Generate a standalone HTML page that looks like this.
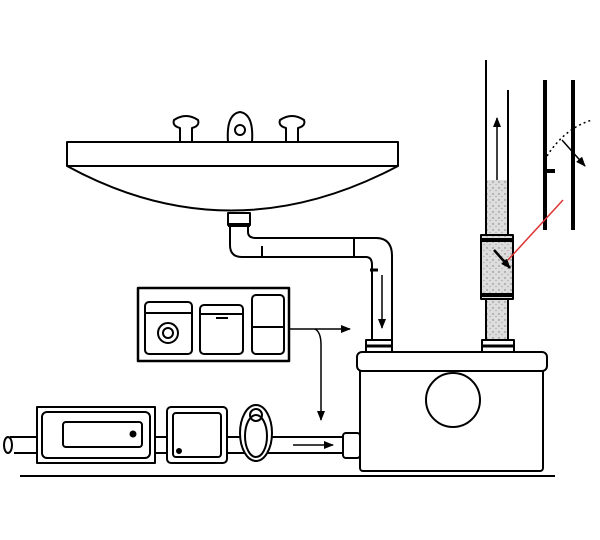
<!DOCTYPE html>
<html><head><style>body{margin:0;background:#fff}svg{display:block}</style></head><body>
<svg width="600" height="540" viewBox="0 0 600 540" xmlns="http://www.w3.org/2000/svg">
<defs>
<marker id="a" markerWidth="10" markerHeight="8" refX="9" refY="4" orient="auto" markerUnits="userSpaceOnUse"><path d="M0,0L10,4L0,8z" fill="#000"/></marker>
<pattern id="sp" width="6" height="6" patternUnits="userSpaceOnUse"><rect width="6" height="6" fill="#ddd"/><circle cx="1" cy="2" r=".7" fill="#777"/><circle cx="4" cy="4.5" r=".6" fill="#999"/></pattern>
</defs>
<g fill="none" stroke="#000" stroke-width="2" stroke-linejoin="round">
<path d="M180,142 V128 Q172,126 174,120 Q186,112 198,120 Q200,126 192,128 V142" fill="#fff"/>
<path d="M228,142 Q226,114 240,112 Q254,114 252,142" fill="#fff"/>
<circle cx="240" cy="130" r="5"/>
<path d="M286,142 V128 Q278,126 280,120 Q292,112 304,120 Q306,126 298,128 V142" fill="#fff"/>
<rect x="67" y="142" width="331" height="24" fill="#fff"/>
<path d="M67,166 Q230,255 398,166"/>
<rect x="228" y="213" width="22" height="12" fill="#fff"/>
<line x1="228" y1="225" x2="250" y2="225" stroke-width="4"/>
<path d="M230,226 V245 Q230,257 242,257 H366 Q372,257 372,265 V345"/>
<path d="M248,226 V232 Q248,238 256,238 H376 Q392,238 392,256 V345"/>
<line x1="262" y1="246" x2="262" y2="257"/>
<line x1="354" y1="238" x2="354" y2="257"/>
<line x1="370" y1="270" x2="378" y2="270" stroke-width="3"/>
<line x1="382" y1="275" x2="382" y2="328" stroke-width="1.5" marker-end="url(#a)"/>
<rect x="366" y="340" width="26" height="12" fill="#fff"/>
<line x1="366" y1="346" x2="392" y2="346" stroke-width="3"/>
<rect x="485" y="180" width="24" height="165" fill="url(#sp)" stroke="none"/>
<line x1="486" y1="60" x2="486" y2="345"/>
<line x1="508" y1="90" x2="508" y2="345"/>
<rect x="481" y="235" width="32" height="64" fill="url(#sp)"/>
<line x1="481" y1="240" x2="513" y2="240" stroke-width="4"/>
<line x1="481" y1="295" x2="513" y2="295" stroke-width="4"/>
<line x1="497" y1="180" x2="497" y2="118" stroke-width="1.5" marker-end="url(#a)"/>
<line x1="494" y1="250" x2="510" y2="268" stroke-width="2.5" marker-end="url(#a)"/>
<rect x="482" y="340" width="32" height="12" fill="#fff"/>
<line x1="482" y1="346" x2="514" y2="346" stroke-width="3"/>
<line x1="545" y1="80" x2="545" y2="230" stroke-width="4"/>
<line x1="573" y1="80" x2="573" y2="230" stroke-width="4"/>
<line x1="545" y1="171" x2="555" y2="171" stroke-width="4"/>
<path d="M547,156 Q565,128 592,120" stroke-dasharray="2,3" stroke-width="1.5"/>
<line x1="562" y1="140" x2="585" y2="166" stroke-width="1.5" marker-end="url(#a)"/>
<line x1="563" y1="200" x2="508" y2="260" stroke="#d33" stroke-width="1.5"/>
<rect x="360" y="368" width="183" height="103" rx="3" fill="#fff"/>
<rect x="357" y="352" width="190" height="19" rx="5" fill="#fff"/>
<ellipse cx="453" cy="400" rx="27" ry="27"/>
<rect x="138" y="288" width="151" height="73" fill="#fff" stroke-width="2.5"/>
<rect x="145" y="302" width="47" height="52" rx="4"/>
<line x1="145" y1="313" x2="192" y2="313"/>
<circle cx="168" cy="333" r="10"/><circle cx="168" cy="333" r="5"/>
<rect x="200" y="305" width="43" height="49" rx="4"/>
<line x1="200" y1="314" x2="243" y2="314"/>
<line x1="216" y1="318" x2="228" y2="318"/>
<rect x="252" y="295" width="32" height="59" rx="4"/>
<line x1="252" y1="327" x2="284" y2="327"/>
<line x1="289" y1="329" x2="350" y2="329" stroke-width="1.5" marker-end="url(#a)"/>
<path d="M315,329 Q321,332 321,345 V420" stroke-width="1.5" marker-end="url(#a)"/>
<path d="M10,437 H345 M14,453 H345"/>
<ellipse cx="8" cy="445" rx="4" ry="8"/>
<rect x="37" y="407" width="118" height="56" fill="#fff"/>
<rect x="42" y="412" width="108" height="46" rx="5" fill="#fff"/>
<rect x="63" y="422" width="79" height="25" rx="3"/>
<circle cx="133" cy="434" r="2.5" fill="#000"/>
<rect x="167" y="407" width="60" height="56" rx="4" fill="#fff"/>
<rect x="173" y="413" width="48" height="44" rx="3"/>
<circle cx="179" cy="451" r="2" fill="#000"/>
<ellipse cx="256" cy="433" rx="16" ry="28" fill="#fff"/>
<ellipse cx="256" cy="436" rx="11" ry="21"/>
<circle cx="256" cy="415" r="6"/>
<line x1="293" y1="445" x2="333" y2="445" stroke-width="1.5" marker-end="url(#a)"/>
<rect x="343" y="433" width="17" height="25" rx="3" fill="#fff"/>
<line x1="20" y1="476" x2="555" y2="476"/>
</g>
</svg>
</body></html>
